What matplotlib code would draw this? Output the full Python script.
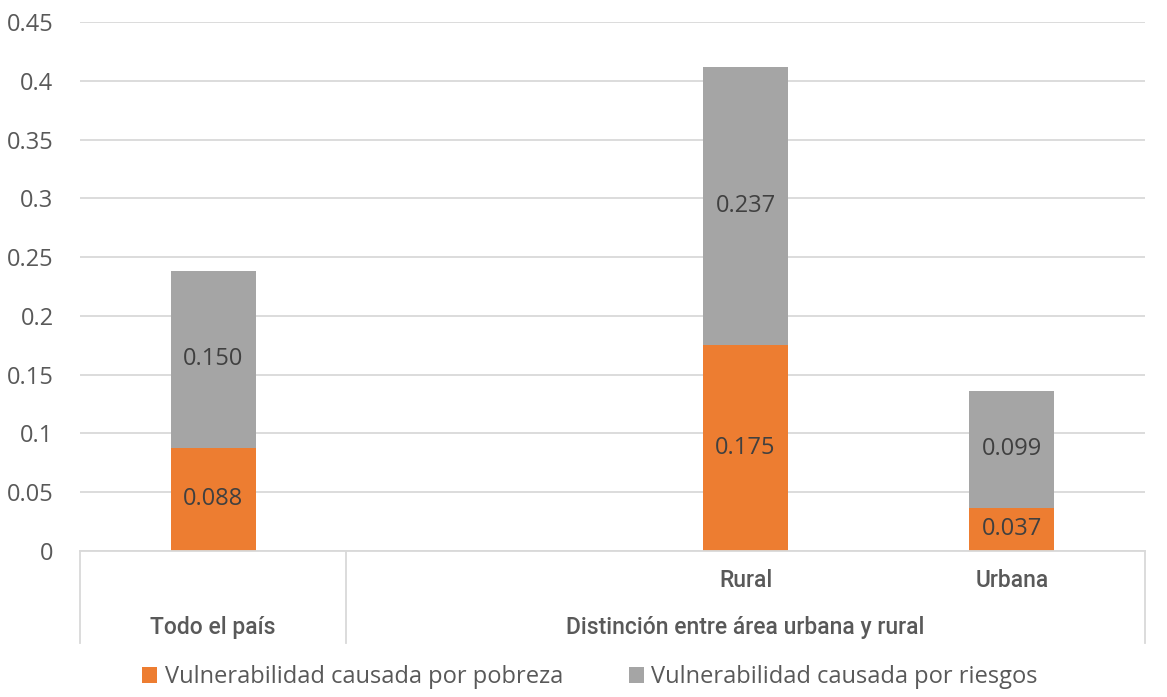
import numpy as np
import matplotlib.pyplot as plt
import matplotlib.transforms as mtransforms

# categories (second slot is an empty spacer in the original chart)
categories = ["Todo el país", "", "Rural", "Urbana"]
group_labels = ["Todo el país", "Distinción entre área urbana y rural"]
pobreza = [0.088, 0.0, 0.175, 0.037]
riesgos = [0.150, 0.0, 0.237, 0.099]
series_names = ["Vulnerabilidad causada por pobreza", "Vulnerabilidad causada por riesgos"]
yticks = [0, 0.05, 0.1, 0.15, 0.2, 0.25, 0.3, 0.35, 0.4, 0.45]
ytick_labels = ["0", "0.05", "0.1", "0.15", "0.2", "0.25", "0.3", "0.35", "0.4", "0.45"]

orange = "#ED7D31"
gray = "#A5A5A5"
grid_c = "#D9D9D9"
tick_c = "#595959"

plt.rcParams['font.family'] = ['Open Sans', 'DejaVu Sans']

fig = plt.figure(figsize=(11.67, 6.97), dpi=100)
ax = fig.add_axes([80 / 1167, 146 / 697, 1065 / 1167, 529 / 697])

x = np.arange(len(categories))
width = 0.32
has_bar = [p + r > 0 for p, r in zip(pobreza, riesgos)]
xb = x[has_bar]
pb = np.array(pobreza)[has_bar]
rb = np.array(riesgos)[has_bar]

b1 = ax.bar(xb, pb, width, color=orange, label=series_names[0], zorder=3)
b2 = ax.bar(xb, rb, width, bottom=pb, color=gray, label=series_names[1], zorder=3)

for xi, p, r in zip(xb, pb, rb):
    ax.text(xi, p / 2, f"{p:.3f}", ha="center", va="center", fontsize=17, color="#404040", zorder=4)
    ax.text(xi, p + r / 2, f"{r:.3f}", ha="center", va="center", fontsize=17, color="#404040", zorder=4)

ax.set_xlim(-0.5, len(categories) - 0.5)
ax.set_ylim(0, 0.45)
ax.set_yticks(yticks)
ax.set_yticklabels(ytick_labels, fontsize=17, color=tick_c)
ax.tick_params(axis="y", length=0, pad=19)
ax.set_xticks([])
ax.yaxis.grid(True, color=grid_c, linewidth=1.3, zorder=0)
for s in ["top", "right", "left"]:
    ax.spines[s].set_visible(False)
ax.spines["bottom"].set_color(grid_c)
ax.spines["bottom"].set_linewidth(1.3)
ax.spines["bottom"].set_zorder(5)

# two-level category axis
trans = mtransforms.blended_transform_factory(ax.transData, ax.transAxes)
cat_font = dict(family=['Roboto', 'DejaVu Sans'], fontsize=16.5, color=tick_c, fontweight="medium")
for xi, c in zip(x, categories):
    if c and xi > 0:
        ax.text(xi, -0.055, c, transform=trans, ha="center", va="center", **cat_font)
ax.text(0, -0.145, group_labels[0], transform=trans, ha="center", va="center", **cat_font)
ax.text(2, -0.145, group_labels[1], transform=trans, ha="center", va="center", **cat_font)
for xs in [-0.5, 0.5, 3.5]:
    ax.plot([xs, xs], [0, -0.174], transform=trans, color=grid_c, linewidth=1.3, clip_on=False)

ax.legend(handles=[b1, b2], loc="center", bbox_to_anchor=(590 / 1167, 20 / 697),
          bbox_transform=fig.transFigure, ncol=2, frameon=False, fontsize=17,
          handlelength=0.65, handleheight=0.65, handletextpad=0.3, columnspacing=2.8,
          labelcolor=tick_c)

fig.savefig("out.png", dpi=100)
